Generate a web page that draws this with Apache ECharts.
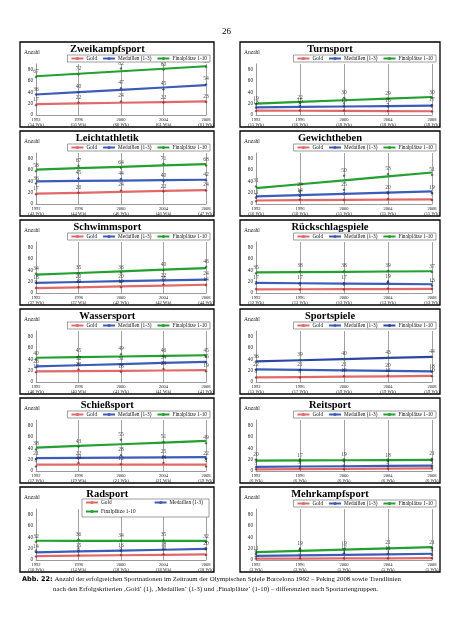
<!DOCTYPE html>
<html><head><meta charset="utf-8">
<script src="https://cdn.jsdelivr.net/npm/echarts@6/dist/echarts.min.js"></script>
<style>html,body{margin:0;padding:0;background:#fff}#c{width:453px;height:640px}</style>
</head><body><div id="c"></div>
<script>
const years = ['1992','1996','2000','2004','2008'];
const seriesNames = ['Gold','Medaillen (1-3)','Finalplätze 1-10'];

const zweiGold=[17,22,24,22,23], zweiMed=[36,40,47,45,54], zweiFin=[67,72,82,80,85], zweiWk=['54','56','60','61','61'];
const turnGold=[7,8,8,7,6], turnMed=[13,15,15,15,17], turnFin=[19,22,30,29,30], turnWk=['15','16','18','18','18'];
const leichtGold=[17,20,24,22,24], leichtMed=[36,45,44,40,42], leichtFin=[58,67,64,71,68], leichtWk=['43','44','46','46','47'];
const gewGold=[5,8,7,9,7], gewMed=[11,14,25,20,19], gewFin=[31,24,50,53,51], gewWk=['10','10','15','15','15'];
const schwGold=[9,10,10,15,14], schwMed=[18,20,20,22,24], schwFin=[34,35,36,40,46], schwWk=['37','37','42','42','44'];
const rueckGold=[7,6,6,8,7], rueckMed=[17,17,17,19,13], rueckFin=[35,38,38,39,37], rueckWk=['12','13','13','13','13'];
const wassGold=[17,22,18,23,19], wassMed=[26,32,31,34,35], wassFin=[40,45,49,46,45], wassWk=['40','40','41','41','41'];
const spielGold=[8,8,10,11,10], spielMed=[22,21,21,20,18], spielFin=[36,39,40,43,44], spielWk=['13','17','19','19','19'];
const schiessGold=[8,14,12,14,8], schiessMed=[21,22,28,25,22], schiessFin=[38,43,55,51,49], schiessWk=['17','19','21','21','19'];
const reitGold=[3,4,3,4,5], reitMed=[7,8,9,9,9], reitFin=[20,17,19,18,21], reitWk=['6','6','6','6','6'];
const radGold=[6,8,9,10,9], radMed=[14,15,16,18,20], radFin=[32,36,34,35,32], radWk=['10','14','18','18','18'];
const mehrGold=[2,3,3,3,3], mehrMed=[6,8,12,11,9], mehrFin=[11,19,19,21,21], mehrWk=['3','3','5','5','5'];

const panels = [
  {title:'Zweikampfsport', d:[zweiGold,zweiMed,zweiFin], wk:zweiWk},
  {title:'Turnsport', d:[turnGold,turnMed,turnFin], wk:turnWk},
  {title:'Leichtathletik', d:[leichtGold,leichtMed,leichtFin], wk:leichtWk},
  {title:'Gewichtheben', d:[gewGold,gewMed,gewFin], wk:gewWk},
  {title:'Schwimmsport', d:[schwGold,schwMed,schwFin], wk:schwWk},
  {title:'Rückschlagspiele', d:[rueckGold,rueckMed,rueckFin], wk:rueckWk},
  {title:'Wassersport', d:[wassGold,wassMed,wassFin], wk:wassWk},
  {title:'Sportspiele', d:[spielGold,spielMed,spielFin], wk:spielWk, finColor:'#2b46a6'},
  {title:'Schießsport', d:[schiessGold,schiessMed,schiessFin], wk:schiessWk},
  {title:'Reitsport', d:[reitGold,reitMed,reitFin], wk:reitWk},
  {title:'Radsport', d:[radGold,radMed,radFin], wk:radWk, twoRow:true},
  {title:'Mehrkampfsport', d:[mehrGold,mehrMed,mehrFin], wk:mehrWk}
];

function trend(arr){
  const n=arr.length; let sx=0,sy=0,sxx=0,sxy=0;
  arr.forEach((y,x)=>{sx+=x;sy+=y;sxx+=x*x;sxy+=x*y;});
  const b=(n*sxy-sx*sy)/(n*sxx-sx*sx), a=(sy-b*sx)/n;
  return arr.map((_,x)=>+(a+b*x).toFixed(3));
}

const FONT='Liberation Serif';
const lineColors=['#e06a6a','#3b5cb8','#22a030'];
const dotColors=['#a02020','#1c3a90','#1a6a1a'];
const colX=[20,240], colW=[194,200];
const rowTop=[42,131,220,309,398,487], PH=85;

const grids=[],xAxes=[],yAxes=[],series=[],titles=[],legends=[],graphics=[];
const legText={fontSize:5.3,fontFamily:FONT,color:'#111',padding:[0,0,0,-2]};
panels.forEach((p,i)=>{
  const c=i%2, r=Math.floor(i/2);
  const px=colX[c], pw=colW[c], T=rowTop[r];
  grids.push({left:px+16, width:pw-24, top:T+22, height:51});
  xAxes.push({gridIndex:i,type:'category',boundaryGap:false,
    data:years.map((y,k)=>y+'\n('+p.wk[k]+' Wk)'),
    axisLine:{lineStyle:{color:'#999',width:1}},axisTick:{show:false},
    axisLabel:{interval:0,fontSize:4.6,lineHeight:5.5,color:'#222',fontFamily:FONT,margin:2},
    splitLine:{show:true,lineStyle:{color:'#8a8a8a',width:0.8}}});
  yAxes.push({gridIndex:i,type:'value',min:0,max:90,interval:10,
    axisLine:{show:true,lineStyle:{color:'#999',width:1}},axisTick:{show:false},
    splitLine:{show:false},
    axisLabel:{fontSize:5.2,color:'#222',fontFamily:FONT,margin:3,formatter:v=>v%20===0&&v<=80?String(v):''}});
  titles.push({text:p.title,left:px+pw*0.45,top:T+2,textAlign:'center',padding:0,
    textStyle:{fontFamily:FONT,fontSize:10.5,fontWeight:'bold',color:'#000'}});
  const legData=seriesNames.map((n,k)=>{
    const col=(k===2&&p.finColor)?p.finColor:lineColors[k];
    return {name:n,itemStyle:{color:col},lineStyle:{color:col,width:2}};
  });
  if(p.twoRow){
    graphics.push({type:'rect',shape:{x:px+62,y:T+12,width:pw-67,height:18},
      style:{fill:'#fff',stroke:'#777',lineWidth:0.7},silent:true,z:5});
    legends.push({data:legData.slice(0,2),top:T+13,left:px+65,itemWidth:12,itemHeight:4,itemGap:42,
      padding:0,selectedMode:false,textStyle:legText,z:6});
    legends.push({data:legData.slice(2),top:T+22,left:px+65,itemWidth:12,itemHeight:4,
      padding:0,selectedMode:false,textStyle:legText,z:6});
  } else {
    legends.push({data:legData,top:T+13,right:453-(px+pw-4),orient:'horizontal',
      itemWidth:12,itemHeight:4,itemGap:5,padding:[1,3],borderColor:'#777',borderWidth:0.7,
      backgroundColor:'#fff',selectedMode:false,textStyle:legText});
  }
  p.d.forEach((arr,k)=>{
    const col=(k===2&&p.finColor)?p.finColor:lineColors[k];
    series.push({type:'line',name:seriesNames[k],xAxisIndex:i,yAxisIndex:i,data:trend(arr),
      symbol:'none',silent:true,lineStyle:{color:col,width:2.2},itemStyle:{color:col},z:2});
    series.push({type:'scatter',name:seriesNames[k]+' Werte',xAxisIndex:i,yAxisIndex:i,data:arr,
      symbol:'diamond',symbolSize:3,itemStyle:{color:dotColors[k]},silent:true,z:3,
      label:{show:true,position:'top',distance:1,fontSize:5.6,fontFamily:FONT,color:'#222'}});
  });
  graphics.push({type:'rect',shape:{x:px,y:T,width:pw,height:PH},
    style:{fill:null,stroke:'#000',lineWidth:1.3},silent:true,z:10});
  graphics.push({type:'text',left:px+4,top:T+8,
    style:{text:'Anzahl',fontSize:5.5,fontFamily:FONT,fill:'#222'},z:10});
});
graphics.push({type:'text',left:'center',top:27,style:{text:'26',fontSize:9,fontFamily:FONT,fill:'#000'}});
graphics.push({type:'text',left:22,top:576,style:{
  text:'{b|Abb. 22:} Anzahl der erfolgreichen Sportnationen im Zeitraum der Olympischen Spiele Barcelona 1992 – Peking 2008 sowie Trendlinien',
  rich:{b:{fontFamily:'DejaVu Sans',fontWeight:'bold',fontSize:6.5,fill:'#000'}},
  fontSize:6.8,fontFamily:FONT,fill:'#111'}});
graphics.push({type:'text',left:53,top:586,style:{
  text:'nach den Erfolgskriterien ‚Gold‘ (1), ‚Medaillen‘ (1-3) und ‚Finalplätze‘ (1-10) – differenziert nach Sportartengruppen.',
  fontSize:6.8,fontFamily:FONT,fill:'#111'}});

const chart=echarts.init(document.getElementById('c'),null,{renderer:'canvas'});
chart.setOption({animation:false,backgroundColor:'#fff',
  title:titles,legend:legends,grid:grids,xAxis:xAxes,yAxis:yAxes,series:series,graphic:graphics});
</script></body></html>
